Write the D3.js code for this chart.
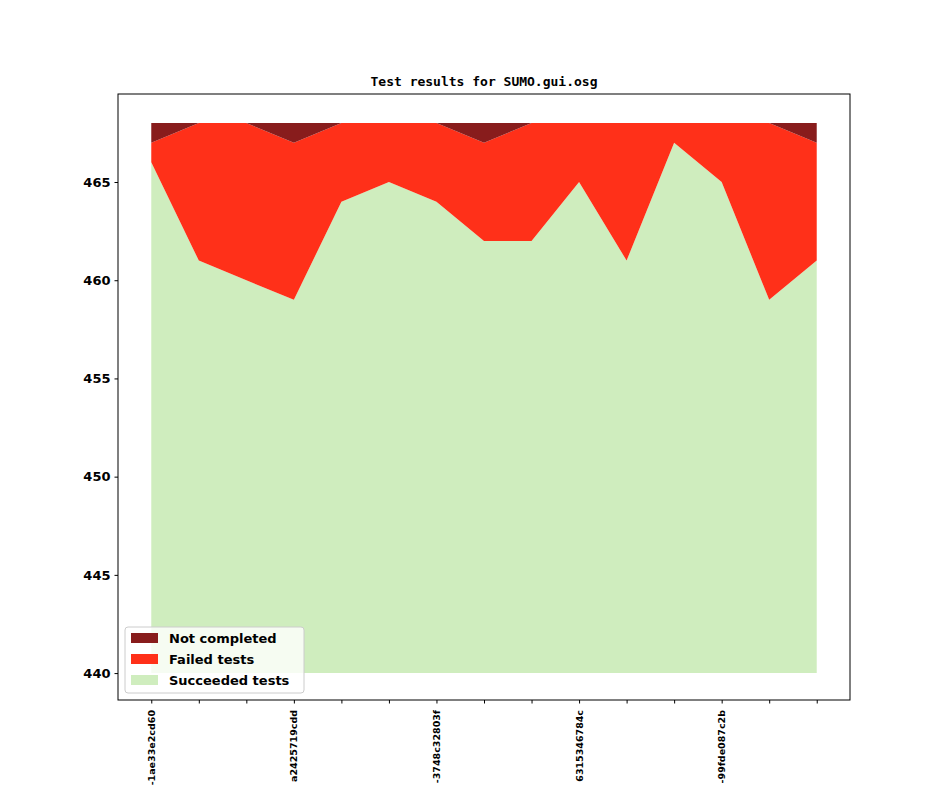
<!DOCTYPE html>
<html><head><meta charset="utf-8">
<script src="https://cdn.jsdelivr.net/npm/d3@7"></script>
<style>body{margin:0;background:#fff;font-family:"DejaVu Sans",sans-serif}</style>
</head><body>
<div class="plot"></div>
<script>
// test run results, one entry per commit
const succeeded = [466, 461, 460, 459, 464, 465, 464, 462, 462, 465, 461, 467, 465, 459, 461];
const failed    = [1, 7, 8, 8, 4, 3, 4, 5, 6, 3, 7, 1, 3, 9, 6];
const notDone   = [1, 0, 0, 1, 0, 0, 0, 1, 0, 0, 0, 0, 0, 0, 1];
const tickLabels = ['-1ae33e2cd60', '', '', 'a2425719cdd', '', '', '-3748c32803f', '', '', '6315346784c', '', '', '-99fde087c2b', '', ''];
const yTicks = [440, 445, 450, 455, 460, 465];
const base = 440;

const W = 944, H = 787;
const mLeft = 118, mRight = 850, mTop = 94, mBottom = 700;

const svg = d3.select('.plot').append('svg').attr('width', W).attr('height', H);

const x = d3.scaleLinear().domain([-0.7, 14.7]).range([mLeft, mRight]);
const y = d3.scaleLinear().domain([438.63, 469.48]).range([mBottom, mTop]);

const idx = d3.range(succeeded.length);
const layers = [
    {name: 'Succeeded tests', color: '#cfedbe', lo: i => base, hi: i => succeeded[i]},
    {name: 'Failed tests', color: '#ff3019', lo: i => succeeded[i], hi: i => succeeded[i] + failed[i]},
    {name: 'Not completed', color: '#881c1c', lo: i => succeeded[i] + failed[i], hi: i => succeeded[i] + failed[i] + notDone[i]}
];

const area = l => d3.area().x(i => x(i)).y0(i => y(l.lo(i))).y1(i => y(l.hi(i)))(idx);

layers.forEach(l => {
    svg.append('path').attr('d', area(l)).attr('fill', l.color);
});

svg.append('rect').attr('x', mLeft).attr('y', mTop).attr('width', mRight - mLeft).attr('height', mBottom - mTop)
    .attr('fill', 'none').attr('stroke', '#000').attr('stroke-width', 1);

const yAxis = svg.append('g').attr('transform', `translate(${mLeft},0)`)
    .call(d3.axisLeft(y).tickValues(yTicks).tickSize(3.5).tickPadding(4));
yAxis.select('.domain').remove();
yAxis.selectAll('text').attr('font-size', 13).attr('font-weight', 'bold').attr('fill', '#000')
    .attr('font-family', '"DejaVu Sans"');

const xAxis = svg.append('g').attr('transform', `translate(0,${mBottom})`)
    .call(d3.axisBottom(x).tickValues(idx).tickSize(3.5).tickFormat(''));
xAxis.select('.domain').remove();
idx.forEach(i => {
    if (!tickLabels[i]) return;
    svg.append('text').text(tickLabels[i])
        .attr('transform', `translate(${x(i) + 3.5},710) rotate(-90)`)
        .attr('text-anchor', 'end').attr('font-size', 9.5).attr('font-weight', 'bold');
});

svg.append('text').text('Test results for SUMO.gui.osg')
    .attr('x', (mLeft + mRight) / 2).attr('y', 86).attr('text-anchor', 'middle')
    .attr('font-family', '"DejaVu Sans Mono", monospace').attr('font-weight', 'bold').attr('font-size', 13);

// legend
const lg = svg.append('g').attr('transform', 'translate(125,627)');
lg.append('rect').attr('width', 179).attr('height', 66).attr('rx', 3)
    .attr('fill', '#fff').attr('fill-opacity', 0.8).attr('stroke', '#ccc');
layers.slice().reverse().forEach((l, k) => {
    lg.append('rect').attr('x', 6).attr('y', 6 + k * 21).attr('width', 27).attr('height', 10).attr('fill', l.color);
    lg.append('text').text(l.name).attr('x', 44).attr('y', 16 + k * 21)
        .attr('font-size', 13).attr('font-weight', 'bold');
});
</script>
</body></html>
